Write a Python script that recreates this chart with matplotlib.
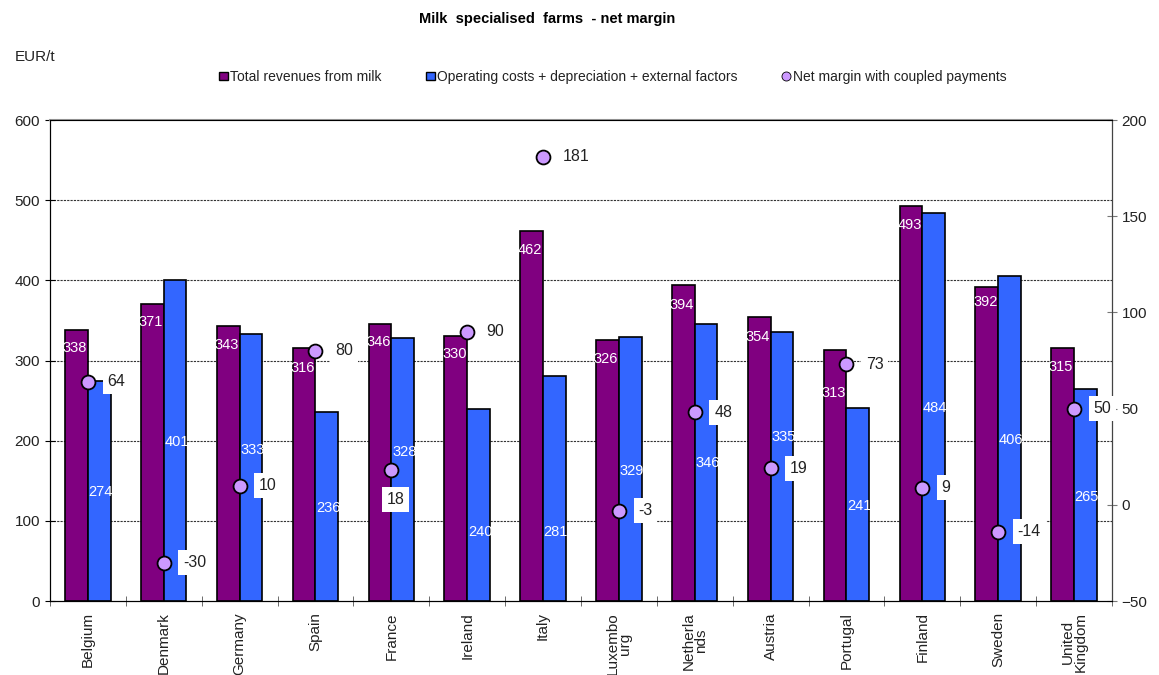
import matplotlib
matplotlib.use("Agg")
from matplotlib import pyplot as plt
from matplotlib.patches import Patch
from matplotlib.lines import Line2D
import numpy as np

plt.rcParams['font.family'] = ['Liberation Sans', 'DejaVu Sans']

countries = ["Belgium", "Denmark", "Germany", "Spain", "France", "Ireland", "Italy",
             "Luxembo\nurg", "Netherla\nnds", "Austria", "Portugal", "Finland",
             "Sweden", "United\nKingdom"]
revenues = [338, 371, 343, 316, 346, 330, 462, 326, 394, 354, 313, 493, 392, 315]
costs = [274, 401, 333, 236, 328, 240, 281, 329, 346, 335, 241, 484, 406, 265]
net_margin = [64, -30, 10, 80, 18, 90, 181, -3, 48, 19, 73, 9, -14, 50]

# where the white value labels sit inside the bars (left axis units)
rev_label_y = [316, 348, 319, 291, 323, 308, 438, 302, 369, 329, 259, 469, 373, 292]
cost_label_y = [136, 198, 188, 116, 186, 86, 86, 162, 172, 205, 118, 241, 201, 130]

purple = "#800080"
blue = "#3366FF"
lilac = "#CC99FF"

fig = plt.figure(figsize=(11.59, 6.75), dpi=100)
ax = fig.add_axes([0.0431, 0.1096, 0.9163, 0.7126])
ax2 = ax.twinx()

x = np.arange(len(countries))
w = 0.3
ax.bar(x - w / 2, revenues, w, color=purple, edgecolor="black", linewidth=1.2, zorder=2)
ax.bar(x + w / 2, costs, w, color=blue, edgecolor="black", linewidth=1.2, zorder=2)

for i in range(len(countries)):
    ax.text(x[i] - w / 2 - 0.02, rev_label_y[i], str(revenues[i]), color="white",
            ha="center", va="center", fontsize=10.5, zorder=3)
    ax.text(x[i] + w / 2 + 0.02, cost_label_y[i], str(costs[i]), color="white",
            ha="center", va="center", fontsize=10.5, zorder=3)

ax.set_xlim(-0.5, len(countries) - 0.5)
ax.set_ylim(0, 600)
ax.set_yticks(range(0, 601, 100))
for gy in range(100, 600, 100):
    ax.axhline(gy, color="#333333", linewidth=0.8, linestyle=(0, (2, 1)), zorder=1)

ax.set_xticks(x)
ax.set_xticklabels(countries, rotation=90, fontsize=11, va="top", ha="center",
                   linespacing=0.9, color="#222222")
ax.set_xticks(np.arange(-0.5, len(countries), 1), minor=True)
ax.tick_params(axis="x", which="major", length=0, pad=8)
ax.tick_params(axis="x", which="minor", direction="inout", length=7, color="#555555")
ax.tick_params(axis="y", direction="inout", length=7, labelsize=11, labelcolor="#222222")
ax.spines["top"].set_color("#999999")
ax.spines["top"].set_linewidth(1.5)

ax2.set_ylim(-50, 200)
ax2.set_yticks(range(-50, 201, 50))
ax2.tick_params(axis="y", direction="inout", length=7, labelsize=11, labelcolor="#222222",
                color="#777777")
ax2.spines["right"].set_color("#444444")
ax2.plot(x, net_margin, linestyle="none", marker="o", markersize=10,
         markerfacecolor=lilac, markeredgecolor="black", markeredgewidth=1.3, zorder=5)

for i, v in enumerate(net_margin):
    if countries[i] == "France":
        off, ha, va = (3, -21), "center", "center"
    else:
        off, ha, va = (14, 0), "left", "center"
    ax2.annotate(str(v), (x[i], v), xytext=off, textcoords="offset points",
                 ha=ha, va=va, fontsize=11.5, color="#222222", zorder=4,
                 bbox=dict(boxstyle="square,pad=0.3", facecolor="white", edgecolor="none"))

fig.text(0.472, 0.972, "Milk  specialised  farms  - net margin", ha="center", va="center",
         fontsize=10.5, fontweight="bold")
fig.text(0.013, 0.915, "EUR/t", ha="left", va="center", fontsize=11, color="#222222")

handles = [
    Patch(facecolor=purple, edgecolor="black", label="Total revenues from milk"),
    Patch(facecolor=blue, edgecolor="black", label="Operating costs + depreciation + external factors"),
    Line2D([], [], linestyle="none", marker="o", markersize=6.5, markerfacecolor=lilac,
           markeredgecolor="black", markeredgewidth=0.6, label="Net margin with coupled payments"),
]
fig.legend(handles=handles, loc="center", bbox_to_anchor=(0.529, 0.886), ncol=3,
           frameon=False, fontsize=10, handlelength=0.6, handleheight=0.6,
           handletextpad=0.2, columnspacing=3.2, labelcolor="#222222")

fig.savefig("out.png", dpi=100)
